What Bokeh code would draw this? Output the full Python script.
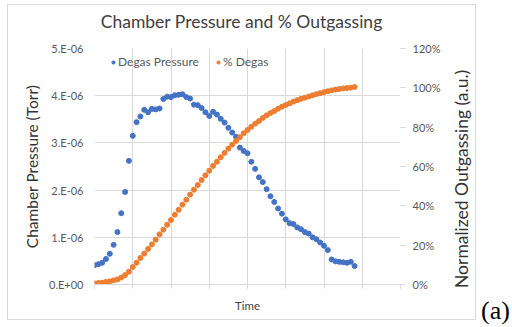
from bokeh.plotting import figure
from bokeh.layouts import row, column
from bokeh.models import (Range1d, LinearAxis, FixedTicker, CustomJSTickFormatter,
                          NumeralTickFormatter, Legend, LegendItem, Div,
                          ColumnDataSource)
from bokeh.embed import file_html
from bokeh.resources import INLINE

# ---------------- data ----------------
time_idx = list(range(69))
pressure_e6 = [0.41, 0.43, 0.46, 0.54, 0.65, 0.84, 1.11, 1.51, 1.96, 2.62,
               3.15, 3.44, 3.56, 3.70, 3.65, 3.72, 3.71, 3.73, 3.93, 3.98,
               3.97, 4.01, 4.02, 4.03, 3.97, 3.94, 3.81, 3.80, 3.74, 3.65,
               3.57, 3.66, 3.60, 3.51, 3.43, 3.32, 3.22, 3.13, 2.90, 2.83,
               2.78, 2.60, 2.45, 2.27, 2.17, 2.02, 1.87, 1.75, 1.61, 1.50,
               1.38, 1.30, 1.28, 1.21, 1.17, 1.11, 1.08, 1.00, 0.96, 0.89,
               0.82, 0.73, 0.53, 0.49, 0.48, 0.47, 0.46, 0.48, 0.39]
degas_pct = [0.6, 0.8, 0.9, 1.3, 1.6, 2.1, 2.6, 3.5, 4.8, 6.5,
             8.9, 11.1, 13.5, 15.7, 18.1, 20.4, 22.8, 25.5, 27.9, 30.4,
             32.8, 35.5, 38.0, 40.6, 43.1, 45.7, 48.2, 50.6, 53.1, 55.5,
             57.9, 60.3, 62.4, 64.7, 66.9, 69.1, 71.1, 73.0, 74.9, 76.9,
             78.6, 80.2, 81.8, 83.1, 84.7, 86.0, 87.2, 88.2, 89.4, 90.4,
             91.3, 92.1, 93.0, 93.7, 94.4, 95.0, 95.6, 96.2, 96.8, 97.3,
             97.8, 98.3, 98.7, 99.1, 99.4, 99.7, 99.9, 100.1, 100.4]
left_ticks = [float(f"{i}e-6") for i in range(6)]
right_ticks = [0.0, 0.2, 0.4, 0.6, 0.8, 1.0, 1.2]
x_grid_ticks = [0, 10, 20, 30, 40, 50, 60, 70, 80]
title_text = "Chamber Pressure and % Outgassing"
series_names = ["Degas Pressure", "% Degas"]
left_title = "Chamber Pressure (Torr)"
right_title = "Normalized Outgassing (a.u.)"
x_title = "Time"
panel_tag = "(a)"

pressure = [v * 1e-6 for v in pressure_e6]
degas_frac = [v / 100.0 for v in degas_pct]
src = ColumnDataSource(dict(t=time_idx, p=pressure, d=degas_frac))

BLUE = "#4472C4"
ORANGE = "#ED7D31"
GRID = "#D9D9D9"
TXT = "#595959"
FONT = "Lato"

p = figure(width=440, height=281,
           frame_width=306, frame_height=236,
           min_border_left=86, min_border_right=48,
           min_border_top=10, min_border_bottom=35,
           x_range=Range1d(0, 80), y_range=Range1d(0, 5e-6),
           output_backend="svg", toolbar_location=None, margin=(0, 0, 0, 0))
p.outline_line_color = None
p.background_fill_color = "white"
p.border_fill_color = "white"

# grids
p.xgrid.ticker = FixedTicker(ticks=x_grid_ticks)
p.ygrid.ticker = FixedTicker(ticks=left_ticks)
p.xgrid.grid_line_color = GRID
p.ygrid.grid_line_color = GRID

# x axis (no tick labels)
xa = p.xaxis[0]
xa.ticker = FixedTicker(ticks=x_grid_ticks)
xa.formatter = CustomJSTickFormatter(code="return ''")
xa.major_label_text_font_size = "0px"
xa.major_label_standoff = 0
xa.axis_line_color = GRID
xa.major_tick_line_color = GRID
xa.major_tick_out = 4
xa.major_tick_in = 0
xa.minor_tick_line_color = None
xa.axis_label = x_title
xa.axis_label_standoff = 10
xa.axis_label_text_font = FONT
xa.axis_label_text_font_size = "11.5px"
xa.axis_label_text_font_style = "normal"
xa.axis_label_text_color = "#404040"

# left axis
ya = p.yaxis[0]
ya.ticker = FixedTicker(ticks=left_ticks)
ya.formatter = CustomJSTickFormatter(code="""
if (tick === 0) { return '0.E+00'; }
const e = Math.floor(Math.log10(Math.abs(tick)) + 1e-9);
const m = Math.round(tick / Math.pow(10, e));
const es = (e < 0 ? '-' : '+') + String(Math.abs(e)).padStart(2, '0');
return m + '.E' + es;
""")
ya.axis_line_color = None
ya.major_tick_line_color = None
ya.minor_tick_line_color = None
ya.major_tick_out = 0
ya.major_label_standoff = 11
ya.major_label_text_font = FONT
ya.major_label_text_font_size = "11px"
ya.major_label_text_color = TXT
ya.axis_label = left_title
ya.axis_label_standoff = 5
ya.axis_label_text_font = FONT
ya.axis_label_text_font_size = "15.5px"
ya.axis_label_text_font_style = "normal"
ya.axis_label_text_color = "#333333"

# right axis
p.extra_y_ranges = {"pct": Range1d(0, 1.2)}
ra = LinearAxis(y_range_name="pct", ticker=FixedTicker(ticks=right_ticks),
                formatter=NumeralTickFormatter(format="0%"))
ra.axis_line_color = None
ra.major_tick_line_color = GRID
ra.major_tick_out = 5
ra.major_tick_in = 0
ra.minor_tick_line_color = None
ra.major_label_standoff = 7
ra.major_label_text_font = FONT
ra.major_label_text_font_size = "11px"
ra.major_label_text_color = TXT
p.add_layout(ra, "right")

# data
r1 = p.scatter("t", "p", source=src, size=5, color=BLUE, line_color=BLUE)
r2 = p.scatter("t", "d", source=src, size=5, color=ORANGE, line_color=ORANGE,
               y_range_name="pct")

legend = Legend(items=[LegendItem(label=series_names[0], renderers=[r1]),
                       LegendItem(label=series_names[1], renderers=[r2])],
                orientation="horizontal", location=(15, 215),
                glyph_width=8, glyph_height=8, label_standoff=1, spacing=15,
                padding=0, margin=0, border_line_color=None,
                background_fill_alpha=0, label_text_font=FONT,
                label_text_font_size="12px", label_text_color=TXT,
                label_height=12)
p.add_layout(legend, "center")

title_div = Div(text=title_text, width=467, height=33, margin=(0, 0, 0, 0),
                styles={"font-family": FONT, "font-size": "17.5px",
                        "line-height": "33px", "color": "#404040",
                        "text-align": "center", "background": "white"})

right_label = Div(text=right_title, width=27, height=281, margin=(0, 0, 0, 0),
                  styles={"font-family": FONT, "font-size": "17.5px",
                          "line-height": "27px", "color": "#333333",
                          "writing-mode": "vertical-rl",
                          "transform": "rotate(180deg)",
                          "text-align": "center", "white-space": "nowrap",
                          "background": "white"})

framed = column(title_div, row(p, right_label, spacing=0), margin=(4, 0, 0, 7),
                spacing=0, styles={"border": "1px solid #D9D9D9"})

tag = Div(text=panel_tag, width=31, height=27, margin=(297, 0, 0, 5),
          styles={"font-family": "Liberation Serif", "font-size": "26px",
                  "line-height": "27px", "color": "black"})

layout = row(framed, tag)
open("out.html", "w").write(file_html(layout, INLINE))
